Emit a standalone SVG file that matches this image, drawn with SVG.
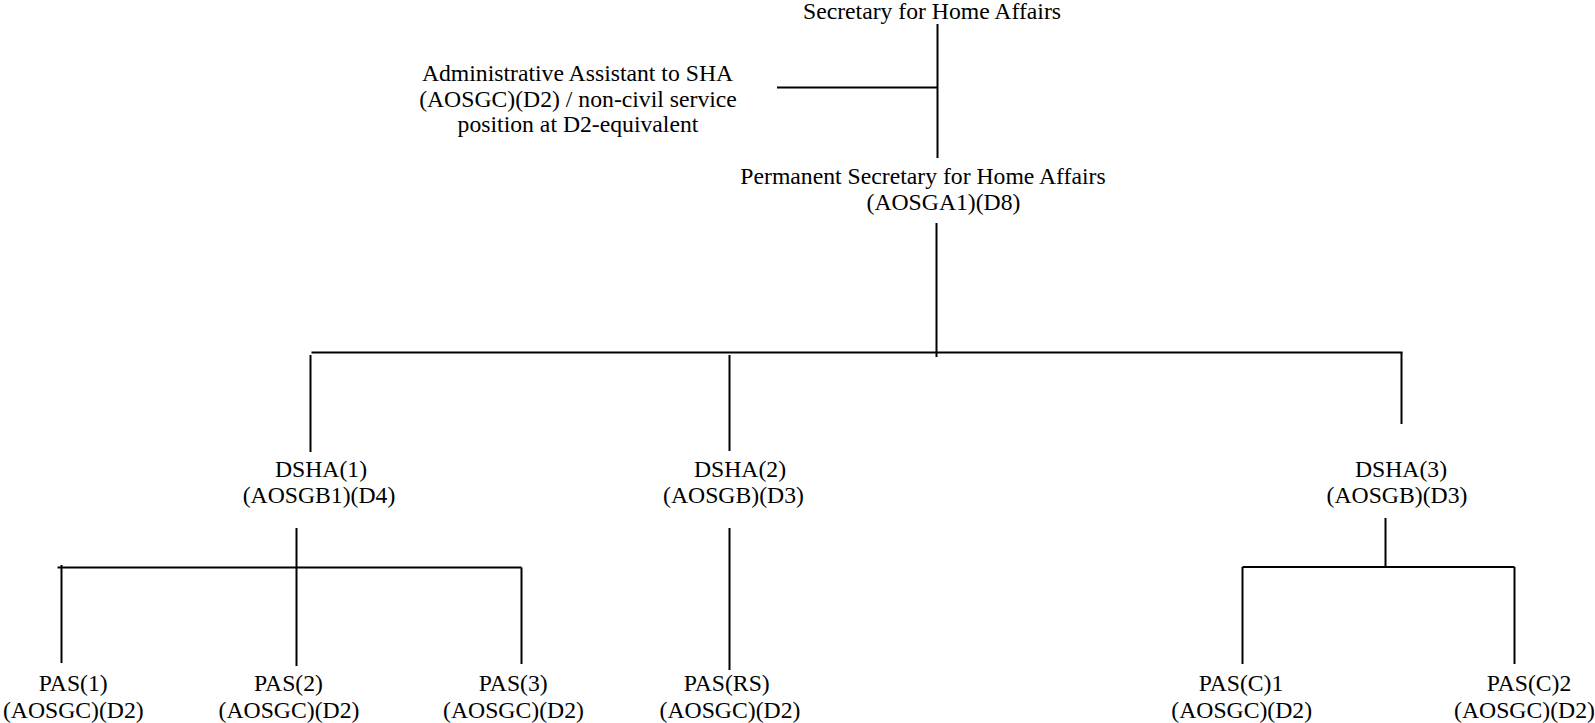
<svg xmlns="http://www.w3.org/2000/svg" width="1595" height="723" viewBox="0 0 1595 723">
<style>
text{font-family:"Liberation Serif","Times New Roman",serif;font-size:23.7px;fill:#000;text-anchor:middle}
.c line{stroke:#000;stroke-width:2;fill:none}
</style>
<rect x="0" y="0" width="1595" height="723" fill="#fff"/>
<g class="c" id="connectors">
<line x1="937.5" y1="24" x2="937.5" y2="158"/>
<line x1="777" y1="87.5" x2="937.5" y2="87.5"/>
<line x1="936.5" y1="223" x2="936.5" y2="357"/>
<line x1="311.5" y1="352.5" x2="1402.5" y2="352.5"/>
<line x1="310.5" y1="355" x2="310.5" y2="452"/>
<line x1="729.5" y1="355" x2="729.5" y2="451"/>
<line x1="1401.5" y1="352.5" x2="1401.5" y2="424"/>
<line x1="296.5" y1="528" x2="296.5" y2="666"/>
<line x1="57.5" y1="567.5" x2="521.5" y2="567.5"/>
<line x1="61.5" y1="565" x2="61.5" y2="663"/>
<line x1="521.5" y1="567.5" x2="521.5" y2="664"/>
<line x1="729.5" y1="528" x2="729.5" y2="670"/>
<line x1="1385.5" y1="518" x2="1385.5" y2="568"/>
<line x1="1242.5" y1="567" x2="1514.5" y2="567"/>
<line x1="1242.5" y1="567" x2="1242.5" y2="664"/>
<line x1="1514.5" y1="567" x2="1514.5" y2="664"/>
</g>
<g id="sha"><text x="932" y="18.5">Secretary for Home Affairs</text></g>
<g id="aa"><text x="577.5" y="81">Administrative Assistant to SHA</text><text x="578" y="106.5">(AOSGC)(D2) / non-civil service</text><text x="578" y="132">position at D2-equivalent</text></g>
<g id="ps"><text x="923" y="183.5">Permanent Secretary for Home Affairs</text><text x="943.5" y="209.5">(AOSGA1)(D8)</text></g>
<g id="dsha1"><text x="321" y="477">DSHA(1)</text><text x="319" y="503">(AOSGB1)(D4)</text></g>
<g id="dsha2"><text x="740" y="477">DSHA(2)</text><text x="733.5" y="503">(AOSGB)(D3)</text></g>
<g id="dsha3"><text x="1401" y="477">DSHA(3)</text><text x="1397" y="503">(AOSGB)(D3)</text></g>
<g id="pas1"><text x="73.3" y="691">PAS(1)</text><text x="73.3" y="717.5">(AOSGC)(D2)</text></g>
<g id="pas2"><text x="288.5" y="691">PAS(2)</text><text x="289" y="717.5">(AOSGC)(D2)</text></g>
<g id="pas3"><text x="513.3" y="691">PAS(3)</text><text x="513.5" y="717.5">(AOSGC)(D2)</text></g>
<g id="pasrs"><text x="726.7" y="691">PAS(RS)</text><text x="730" y="717.5">(AOSGC)(D2)</text></g>
<g id="pasc1"><text x="1241" y="691">PAS(C)1</text><text x="1241.7" y="717.5">(AOSGC)(D2)</text></g>
<g id="pasc2"><text x="1529" y="691">PAS(C)2</text><text x="1524.5" y="717.5">(AOSGC)(D2)</text></g>
</svg>
